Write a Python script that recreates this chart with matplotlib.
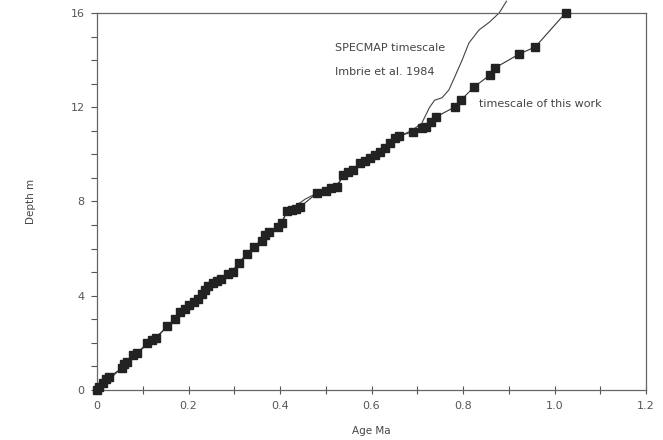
import numpy as np
import matplotlib.pyplot as plt
from matplotlib.ticker import MultipleLocator

# timescale of this work (age Ma, depth m)
age_work = [0.000, 0.004, 0.013, 0.020, 0.026, 0.055, 0.059, 0.066, 0.079, 0.088,
            0.110, 0.121, 0.130, 0.154, 0.171, 0.182, 0.193, 0.202, 0.211, 0.220,
            0.229, 0.235, 0.242, 0.253, 0.262, 0.270, 0.286, 0.297, 0.310, 0.327,
            0.343, 0.360, 0.367, 0.376, 0.396, 0.404, 0.415, 0.426, 0.435, 0.444,
            0.481, 0.501, 0.512, 0.525, 0.538, 0.549, 0.560, 0.574, 0.585, 0.596,
            0.607, 0.618, 0.629, 0.640, 0.651, 0.659, 0.690, 0.710, 0.719, 0.730,
            0.741, 0.782, 0.796, 0.824, 0.859, 0.870, 0.923, 0.958, 1.024]
depth_work = [0.00, 0.13, 0.30, 0.47, 0.55, 0.93, 1.10, 1.19, 1.49, 1.57,
              2.00, 2.12, 2.21, 2.72, 3.01, 3.31, 3.44, 3.61, 3.74, 3.88,
              4.07, 4.24, 4.41, 4.54, 4.63, 4.71, 4.92, 5.01, 5.39, 5.77,
              6.07, 6.32, 6.58, 6.71, 6.92, 7.09, 7.58, 7.64, 7.68, 7.77,
              8.36, 8.45, 8.57, 8.62, 9.13, 9.25, 9.34, 9.63, 9.72, 9.85,
              9.97, 10.10, 10.27, 10.50, 10.70, 10.78, 10.95, 11.12, 11.16, 11.38,
              11.59, 12.01, 12.31, 12.86, 13.37, 13.67, 14.26, 14.56, 16.00]

# SPECMAP timescale (Imbrie et al. 1984)
age_specmap = [0.0, 0.03, 0.06, 0.09, 0.12, 0.155, 0.20, 0.25, 0.29, 0.33,
               0.37, 0.40, 0.415, 0.426, 0.455, 0.481, 0.52, 0.54, 0.60, 0.64,
               0.66, 0.69, 0.71, 0.727, 0.738, 0.754, 0.769, 0.782, 0.798, 0.813,
               0.835, 0.857, 0.879, 0.895]
depth_specmap = [0.0, 0.5, 1.05, 1.6, 2.1, 2.7, 3.6, 4.5, 4.95, 5.8,
                 6.6, 7.0, 7.55, 7.7, 8.1, 8.36, 8.6, 9.1, 9.9, 10.45,
                 10.75, 11.04, 11.33, 12.0, 12.3, 12.4, 12.73, 13.29, 14.0, 14.73,
                 15.28, 15.6, 16.0, 16.5]

xticks = [0, 0.2, 0.4, 0.6, 0.8, 1.0, 1.2]
xticklabels = ['0', '0.2', '0.4', '0.6', '0.8', '1.0', '1.2']
yticks = [0, 4, 8, 12, 16]

plt.rcParams['font.family'] = 'DejaVu Sans'
fig = plt.figure(figsize=(6.63, 4.40), dpi=100)
ax = fig.add_axes([0.1463, 0.1136, 0.8281, 0.8569])

ax.plot(age_specmap, depth_specmap, '-', color='#444444', lw=0.8, clip_on=False)
ax.plot(age_work, depth_work, 's-', color='#333333', lw=0.8, clip_on=False,
        markersize=5.2, markerfacecolor='#222222', markeredgecolor='#222222',
        zorder=3)

ax.set_xlim(0, 1.2)
ax.set_ylim(0, 16)
ax.set_xticks(xticks)
ax.set_xticklabels(xticklabels)
ax.set_yticks(yticks)
ax.xaxis.set_minor_locator(MultipleLocator(0.1))
ax.yaxis.set_minor_locator(MultipleLocator(1))
ax.tick_params(axis='both', which='both', colors='#555555', labelsize=8,
               length=4, width=0.8, pad=5)
ax.tick_params(axis='x', which='both', direction='inout', length=6)
for s in ax.spines.values():
    s.set_color('#666666')
    s.set_linewidth(0.9)

ax.set_xlabel('Age Ma', fontsize=7.5, color='#444444', labelpad=11)
ax.set_ylabel('Depth m', fontsize=7.5, color='#444444', labelpad=25)

ax.text(0.52, 14.4, 'SPECMAP timescale', fontsize=8, color='#444444')
ax.text(0.52, 13.35, 'Imbrie et al. 1984', fontsize=8, color='#444444')
ax.text(0.835, 12.0, 'timescale of this work', fontsize=8, color='#444444')

fig.savefig('out.png', dpi=100)
